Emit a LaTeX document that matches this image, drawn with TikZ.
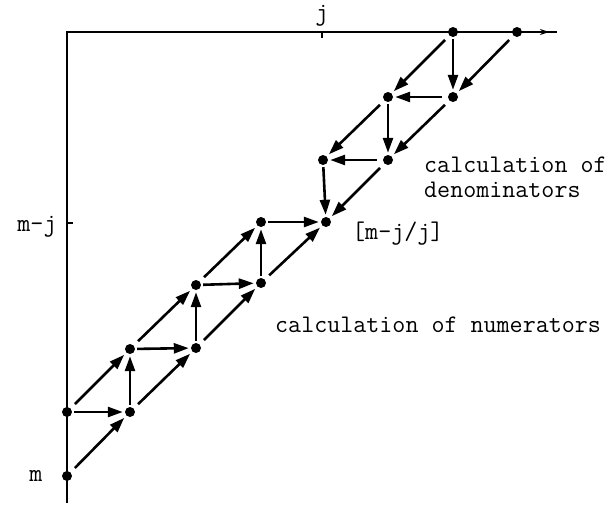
\documentclass[tikz,border=0pt]{standalone}
\usepackage{fontspec}
\usetikzlibrary{arrows.meta}
\tikzset{
  dot/.style={circle, fill=black, inner sep=0pt, minimum size=10pt},
  arr/.style={line width=2.6pt, -{Triangle[length=15pt,width=10pt]}},
  diag/.style={arr, shorten <=6pt, shorten >=3pt},
  vert/.style={arr, shorten <=2pt, shorten >=2pt},
  horgap/.style={arr, shorten <=6pt, shorten >=2pt},
  hor/.style={arr, shorten <=2pt, shorten >=2pt},
  axis/.style={line width=2.2pt},
  lbl/.style={font=\fontsize{25.3}{25}\selectfont\ttfamily, inner sep=0pt}
}
\begin{document}
\begin{tikzpicture}[x=1pt, y=-1pt]
\useasboundingbox (0,0) rectangle (612,507);
% axes
\coordinate (O) at (67,32);
\coordinate (yend) at (67,503);
\coordinate (xtip) at (549,32);
\coordinate (xend) at (557,32);
\coordinate (jt) at (322,32);
\coordinate (jb) at (322,38);
\coordinate (mjl) at (67,223);
\coordinate (mjr) at (73,223);
\draw[axis] (yend) -- (O) -- (xend);
\draw[axis, -{Stealth[length=9pt,width=6pt]}] (O) -- (xtip);
\draw[line width=2.6pt] (jt) -- (jb);
\draw[line width=2.6pt] (mjl) -- (mjr);
% nodes
\node[dot] (A1) at (453,32) {};
\node[dot] (A2) at (517,32) {};
\node[dot] (B1) at (388,97) {};
\node[dot] (B2) at (453,97) {};
\node[dot] (C1) at (323,160) {};
\node[dot] (C2) at (388,160) {};
\node[dot] (D1) at (261,222) {};
\node[dot] (D2) at (326,222) {};
\node[dot] (E1) at (196,285) {};
\node[dot] (E2) at (261,283) {};
\node[dot] (F1) at (130,349) {};
\node[dot] (F2) at (196,348) {};
\node[dot] (G1) at (67,412) {};
\node[dot] (G2) at (130,412) {};
\node[dot] (M) at (67,476) {};
% labels
\node[lbl, anchor=base] (lj) at (322,20) {j};
\node[lbl, anchor=base] (lmj) at (37,231) {m-j};
\node[lbl, anchor=base] (lm) at (36,481) {m};
\node[lbl, anchor=base west] (lratio) at (352,239) {[m-j/j]};
\node[lbl, anchor=base west] (lden1) at (424,172) {calculation of};
\node[lbl, anchor=base west] (lden2) at (424,197) {denominators};
\node[lbl, anchor=base west] (lnum) at (275,332) {calculation of numerators};
% denominators
\draw[diag] (A1) -- (B1);
\draw[vert] (A1) -- (B2);
\draw[diag] (A2) -- (B2);
\draw[horgap] (B2) -- (B1);
\draw[diag] (B1) -- (C1);
\draw[vert] (B1) -- (C2);
\draw[diag] (B2) -- (C2);
\draw[horgap] (C2) -- (C1);
\draw[vert] (C1) -- (D2);
\draw[diag] (C2) -- (D2);
% numerators
\draw[hor] (D1) -- (D2);
\draw[diag] (E1) -- (D1);
\draw[vert] (E2) -- (D1);
\draw[diag] (E2) -- (D2);
\draw[hor] (E1) -- (E2);
\draw[diag] (F1) -- (E1);
\draw[vert] (F2) -- (E1);
\draw[diag] (F2) -- (E2);
\draw[hor] (F1) -- (F2);
\draw[diag] (G1) -- (F1);
\draw[vert] (G2) -- (F1);
\draw[diag] (G2) -- (F2);
\draw[hor] (G1) -- (G2);
\draw[diag] (M) -- (G2);
\end{tikzpicture}
\end{document}
